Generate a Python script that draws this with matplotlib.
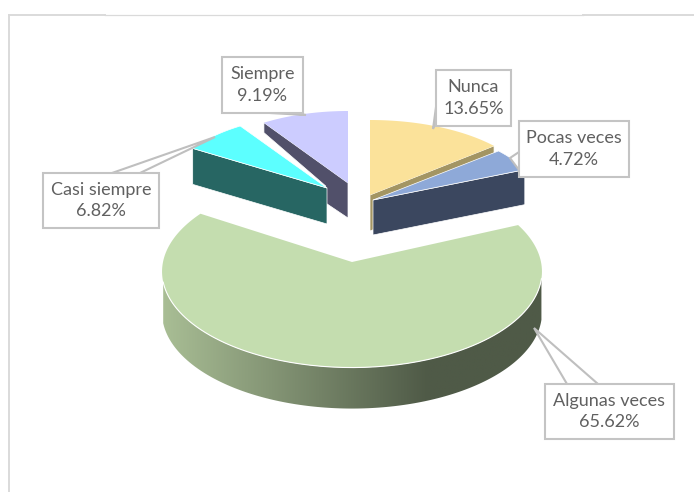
import numpy as np
import matplotlib
matplotlib.use("Agg")
import matplotlib.pyplot as plt
from matplotlib.patches import Polygon, Rectangle
from matplotlib.colors import LinearSegmentedColormap

categories = ["Nunca", "Pocas veces", "Algunas veces", "Casi siempre", "Siempre"]
values = [13.65, 4.72, 65.62, 6.82, 9.19]
tick_labels = ["13.65%", "4.72%", "65.62%", "6.82%", "9.19%"]

# styles / layout (pixel space)
top_colors = ["#FBE29A", "#8EA9D8", "#C4DDAF", "#5CFFFF", "#CCCCFF"]
side_colors = ["#A39563", "#3B475F", "#4F5A47", "#276663", "#51506A"]
apex = [(370, 195), (373, 200), (352, 262), (327, 188), (348, 183)]
radii = [(164, 75), (166, 75), (189, 95), (159, 74), (154, 72)]
persp = [0, 0, 0.1, 0, 0]
depth = [36, 35, 41, 36, 35]
boxes = [(436, 70, 511, 126), (519, 121, 629, 177), (545, 384, 674, 439),
         (43, 173, 159, 228), (222, 57, 303, 113)]
pointers = [[(436, 107), (433, 129), (436, 121)],
            [(519, 152), (510, 158), (519, 170)],
            [(567, 384), (534, 328), (598, 384)],
            [(112, 173), (215, 137), (140, 173)],
            [(270, 113), (306, 115), (290, 113)]]

fig = plt.figure(figsize=(6.94, 4.92), dpi=100)
ax = fig.add_axes([0, 0, 1, 1])
ax.set_xlim(0, 694)
ax.set_ylim(492, 0)
ax.axis("off")
plt.rcParams["font.family"] = ["Lato", "DejaVu Sans"]

GRID = "#DADADA"
ax.plot([9, 9], [492, 15], color=GRID, lw=1.4, zorder=0)
ax.plot([9, 105], [15, 15], color=GRID, lw=1.4, zorder=0)
ax.plot([105, 583], [15.3, 15.3], color=GRID, lw=0.9, zorder=0)
ax.plot([583, 694], [14.8, 14.8], color=GRID, lw=1.4, zorder=0)


def pt(i, deg, dz=0):
    a = np.radians(deg)
    w = 1 + persp[i] * np.sin(a)
    return (apex[i][0] + radii[i][0] * np.cos(a) / w,
            apex[i][1] - radii[i][1] * np.sin(a) / w + dz)


def arc(i, a0, a1, dz=0, n=160):
    return [pt(i, a, dz) for a in np.linspace(a0, a1, n)]


# slice angles, clockwise from 12 o'clock
edges = 90 - np.concatenate([[0], np.cumsum(values)]) * 3.6
spans = [(edges[k + 1], edges[k]) for k in range(len(values))]


def straight_face(i, deg, color, z, profile=None):
    ox, oy = pt(i, deg)
    ax0, ay0 = apex[i]
    up = [(ax0, ay0), (ox, oy)]
    if profile is None:
        profile = [(0, depth[i]), (1, depth[i])]
    low = [(ax0 + (ox - ax0) * t, ay0 + (oy - ay0) * t + d) for t, d in profile]
    ax.add_patch(Polygon(up + low[::-1], closed=True, fc=color, ec="white",
                         lw=0.5, zorder=z))


# back slices first
straight_face(4, spans[4][1], side_colors[4], 2,
              profile=[(0, 35), (0.26, 36), (0.265, 19), (1, 10)])
ax.add_patch(Polygon([apex[4]] + arc(4, *spans[4]), fc=top_colors[4], ec="none", zorder=3))

straight_face(3, spans[3][1], side_colors[3], 4)
ax.add_patch(Polygon([apex[3]] + arc(3, *spans[3]), fc=top_colors[3], ec="white", lw=0.5, zorder=5))

straight_face(0, spans[0][0], side_colors[0], 2)
ax.add_patch(Polygon([apex[0]] + arc(0, *spans[0]), fc=top_colors[0], ec="none", zorder=3))

straight_face(1, spans[1][0], side_colors[1], 4)
ax.add_patch(Polygon([apex[1]] + arc(1, *spans[1]), fc=top_colors[1], ec="white", lw=0.5, zorder=5))

# big slice: gradient wall, then top
i = 2
wall = Polygon(arc(i, 192, 350) + arc(i, 350, 192, depth[i]), closed=True,
               fc="none", ec="none", transform=ax.transData)
ax.add_patch(wall)
cmap = LinearSegmentedColormap.from_list(
    "wall", [(0, "#A9BE95"), (0.7, "#4F5A47"), (1, "#4F5A47")])
im = ax.imshow(np.linspace(0, 1, 256)[None, :], cmap=cmap, aspect="auto",
               extent=(162, 542, 420, 262), zorder=6)
im.set_clip_path(wall)
ax.set_xlim(0, 694)
ax.set_ylim(492, 0)
ax.add_patch(Polygon([apex[i]] + arc(i, *spans[i]), fc=top_colors[i], ec="none", zorder=7))
front = np.array(arc(i, 192, 350))
ax.plot(front[:, 0], front[:, 1], color="white", lw=0.8, zorder=8)

# data labels with call-out pointers
for name, txt, b, p in zip(categories, tick_labels, boxes, pointers):
    ax.add_patch(Polygon(p, closed=False, fc="white", ec="#BFBFBF", lw=1.5, zorder=9))
    ax.add_patch(Rectangle((b[0], b[1]), b[2] - b[0], b[3] - b[1], fc="white",
                           ec="#C4C4C4", lw=1.5, zorder=10))
    ax.text((b[0] + b[2]) / 2, (b[1] + b[3]) / 2, f"{name}\n{txt}", ha="center",
            va="center", ma="center", fontsize=13, color="#606060",
            linespacing=1.4, zorder=11)

fig.savefig("out.png", dpi=100)
